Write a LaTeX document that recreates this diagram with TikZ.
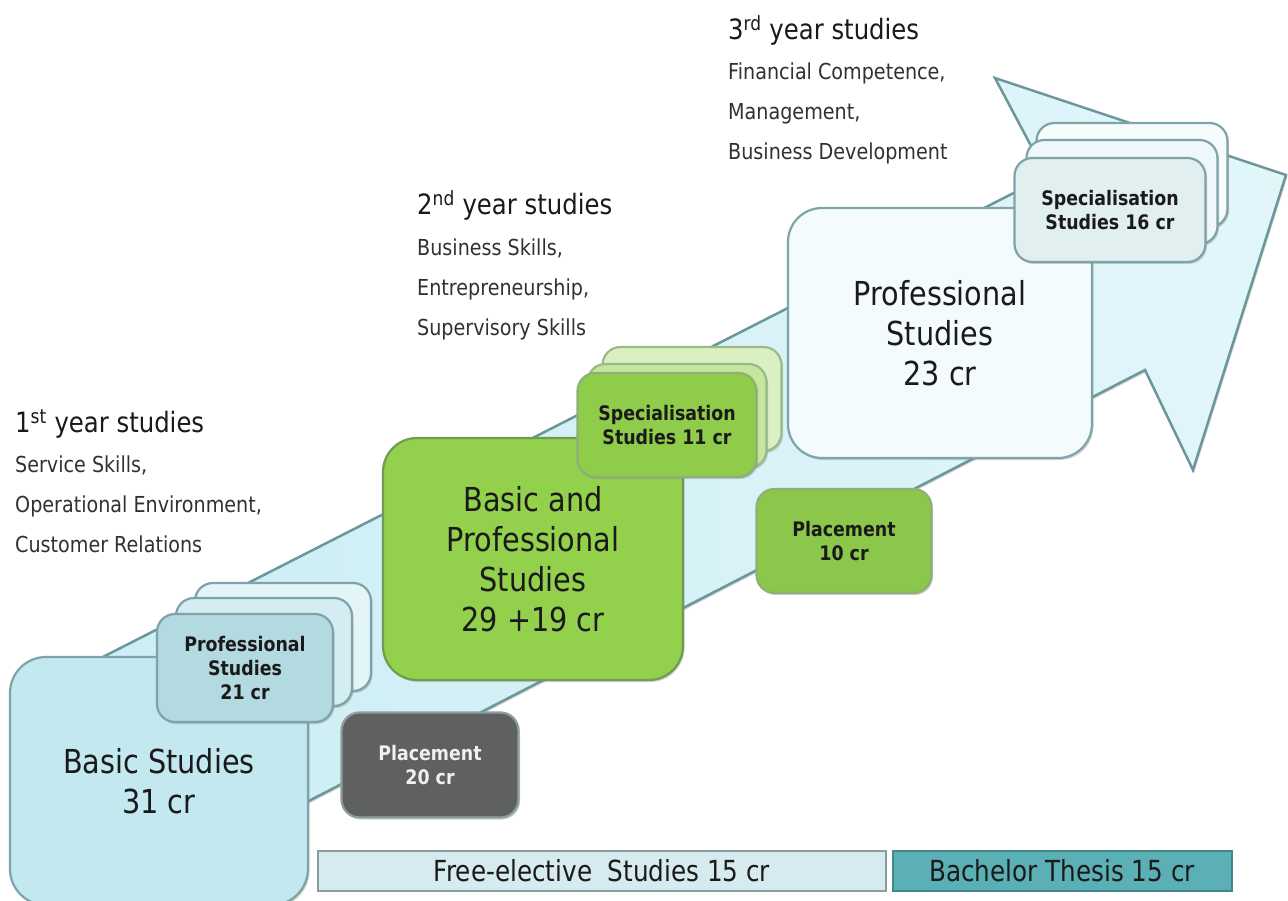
\documentclass[tikz,border=0pt]{standalone}
\usepackage{fontspec}
\setmainfont{DejaVu Sans}[FakeStretch=0.87]
\newfontfamily\barfont{DejaVu Sans}[FakeStretch=0.85]
\usetikzlibrary{shadows,positioning}

\definecolor{arrowfill}{HTML}{CBEDF4}
\definecolor{arrowtop}{HTML}{E2F6FA}
\definecolor{arrowline}{HTML}{6B979C}
\definecolor{boxline}{HTML}{7EA3A8}
\definecolor{basicfill}{HTML}{C3E8EF}
\definecolor{profA}{HTML}{B3D9E1}
\definecolor{profB}{HTML}{D3EDF2}
\definecolor{profC}{HTML}{E4F5F8}
\definecolor{placegray}{HTML}{5F6060}
\definecolor{placeline}{HTML}{8D9E9F}
\definecolor{greenbig}{HTML}{93D04B}
\definecolor{greenline}{HTML}{6F9C55}
\definecolor{specA}{HTML}{8FCC4A}
\definecolor{specB}{HTML}{C4E69D}
\definecolor{specC}{HTML}{DBF0C2}
\definecolor{placegreen}{HTML}{8BC74A}
\definecolor{proffill}{HTML}{F3FBFD}
\definecolor{spectA}{HTML}{E2EFF1}
\definecolor{spectB}{HTML}{EEF7F9}
\definecolor{spectC}{HTML}{F6FBFC}
\definecolor{freefill}{HTML}{D5EBEF}
\definecolor{barline}{HTML}{8B9C9E}
\definecolor{thesisfill}{HTML}{5BB0B6}
\definecolor{thesisline}{HTML}{45868C}
\definecolor{ink}{HTML}{1A1A1A}

\tikzset{
  box/.style={draw=boxline, line width=2.2pt, rounded corners=18pt, align=center,
    inner sep=0pt, text=ink, font=\fontsize{20}{24}\selectfont\bfseries,
    drop shadow={shadow xshift=1.5pt, shadow yshift=-2pt, opacity=.35}},
  bigbox/.style={box, rounded corners=36pt, font=\fontsize{33}{40}\selectfont},
  yearhead/.style={anchor=west, inner sep=0pt, text=ink, font=\fontsize{28}{32}\selectfont},
  topics/.style={anchor=north west, align=left, inner sep=0pt, text=ink!90,
    font=\fontsize{22}{40}\selectfont},
  bar/.style={line width=2pt, minimum height=40pt, inner sep=0pt, text=ink,
    font=\barfont\fontsize{29}{30}\selectfont},
}

\begin{document}
\begin{tikzpicture}[x=1pt,y=-1pt]
\useasboundingbox[fill=white] (0,0) rectangle (1288,901);

% the big arrow
\draw[arrowline, line width=2.5pt, left color=arrowfill, right color=arrowtop,
  drop shadow={shadow xshift=1.5pt, shadow yshift=-2pt, opacity=.3}]
  (40,689) -- (1047,176) -- (995,78) -- (1286,175) -- (1193,470)
  -- (1145,370) -- (200,857) -- cycle;

% first year
\node[bigbox, fill=basicfill, minimum width=298pt, minimum height=248pt] (basic) at (159,781) {Basic Studies\\31 cr};
\node[box, fill=profC, minimum width=176pt, minimum height=108pt] (prof21c) at (283,637) {};
\node[box, fill=profB, minimum width=176pt, minimum height=108pt] (prof21b) at (264,652) {};
\node[box, fill=profA, minimum width=176pt, minimum height=108pt] (prof21) at (245,668) {Professional\\Studies\\21 cr};
\node[box, fill=placegray, draw=placeline, text=white!94!black, minimum width=177pt, minimum height=105pt] (place20) at (430,765) {Placement\\20 cr};

% second year
\node[bigbox, fill=greenbig, draw=greenline, rounded corners=34pt, minimum width=300pt, minimum height=242pt] (basicprof) at (533,559) {Basic and\\Professional\\Studies\\29 +19 cr};
\node[box, fill=specC, draw=greenline!70, minimum width=179pt, minimum height=104pt] (spec11c) at (692,399) {};
\node[box, fill=specB, draw=greenline!70, minimum width=179pt, minimum height=104pt] (spec11b) at (677,416) {};
\node[box, fill=specA, draw=greenline!80, minimum width=179pt, minimum height=104pt] (spec11) at (667,425) {Specialisation\\Studies 11 cr};
\node[box, fill=placegreen, draw=greenline!80, minimum width=175pt, minimum height=104pt] (place10) at (844,541) {Placement\\10 cr};

% third year
\node[bigbox, fill=proffill, rounded corners=34pt, minimum width=304pt, minimum height=250pt] (prof23) at (940,333) {Professional\\Studies\\23 cr};
\node[box, fill=spectC, minimum width=191pt, minimum height=104pt] (spec16c) at (1132,175) {};
\node[box, fill=spectB, minimum width=191pt, minimum height=104pt] (spec16b) at (1122,192) {};
\node[box, fill=spectA, minimum width=191pt, minimum height=104pt] (spec16) at (1110,210) {Specialisation\\Studies 16 cr};

% bars at the bottom
\node[bar, draw=barline, fill=freefill, minimum width=568pt] (free) at (602,871) {Free-elective\ \ Studies 15 cr};
\node[bar, draw=thesisline, fill=thesisfill, minimum width=339pt] (thesis) at (1062,871) {Bachelor Thesis 15 cr};

% year texts
\node[yearhead] (year1) at (15,424) {1\textsuperscript{st} year studies};
\node[topics] (topics1) at (15,456) {Service Skills,\\Operational Environment,\\Customer Relations};
\node[yearhead] (year2) at (417,205) {2\textsuperscript{nd} year studies};
\node[topics] (topics2) at (417,239) {Business Skills,\\Entrepreneurship,\\Supervisory Skills};
\node[yearhead] (year3) at (728,30) {3\textsuperscript{rd} year studies};
\node[topics] (topics3) at (728,63) {Financial Competence,\\Management,\\Business Development};
\end{tikzpicture}
\end{document}
